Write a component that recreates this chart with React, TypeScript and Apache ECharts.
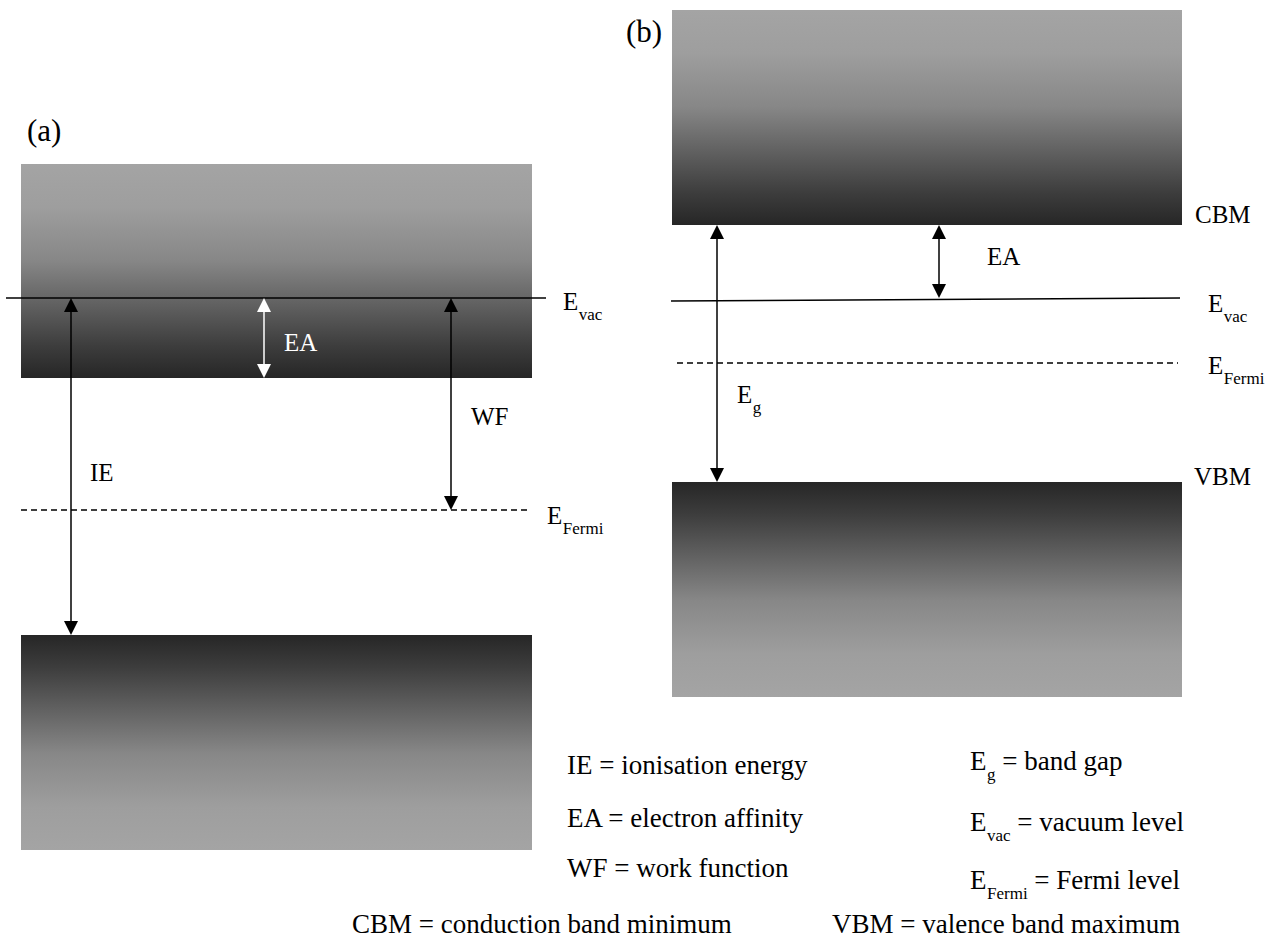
import React, { useEffect, useRef } from 'react';
import * as echarts from 'echarts';

const W = 1274;
const H = 947;

// ---- Diagram data (diagram units: x across, y = energy position, increasing downward) ----
const bandLeft = [21, 672];
const bandRight = [532, 1182];
const conductionTop = [164, 10];
const conductionBottom = [378, 225];
const valenceTop = [635, 482];
const valenceBottom = [850, 697];

const vacuumStartX = [6, 671];
const vacuumEndX = [546, 1180];
const vacuumStartY = [298, 301];
const vacuumEndY = [298, 298];

const fermiStartX = [21, 677];
const fermiEndX = [531, 1178];
const fermiLevel = [510, 363];

const arrowNames = ['IE', 'EA (a)', 'WF', 'EA (b)', 'Eg'];
const arrowX = [71, 264, 451, 939, 717];
const arrowFrom = [298, 298, 298, 225, 225];
const arrowTo = [635, 378, 510, 298, 482];
const arrowColors = ['#000000', '#ffffff', '#000000', '#000000', '#000000'];

const cbStops = [
  { offset: 0, color: '#a4a4a4' },
  { offset: 0.2, color: '#9e9e9e' },
  { offset: 0.45, color: '#878787' },
  { offset: 0.65, color: '#626262' },
  { offset: 0.85, color: '#3d3d3d' },
  { offset: 1, color: '#262626' },
];
const vbStops = cbStops.map((s) => ({ offset: 1 - s.offset, color: s.color })).reverse();

const FONT = '"Liberation Serif", "Times New Roman", serif';

type Part = { t: string; sub?: boolean };
type Label = { parts: Part[]; x: number; base: number; size: number; color?: string };

const L = 25;
const LEG = 27;
const SUB = 17;

const labels: Label[] = [
  { parts: [{ t: '(a)' }], x: 27, base: 141, size: 31 },
  { parts: [{ t: '(b)' }], x: 626, base: 42, size: 31 },
  { parts: [{ t: 'E' }, { t: 'vac', sub: true }], x: 563, base: 310, size: L },
  { parts: [{ t: 'E' }, { t: 'Fermi', sub: true }], x: 547, base: 524, size: L },
  { parts: [{ t: 'EA' }], x: 284, base: 351, size: L, color: '#ffffff' },
  { parts: [{ t: 'IE' }], x: 90, base: 481, size: L },
  { parts: [{ t: 'WF' }], x: 471, base: 425, size: L },
  { parts: [{ t: 'CBM' }], x: 1195, base: 223, size: L },
  { parts: [{ t: 'EA' }], x: 987, base: 265, size: L },
  { parts: [{ t: 'E' }, { t: 'vac', sub: true }], x: 1208, base: 312, size: L },
  { parts: [{ t: 'E' }, { t: 'Fermi', sub: true }], x: 1208, base: 374, size: L },
  { parts: [{ t: 'E' }, { t: 'g', sub: true }], x: 737, base: 403, size: L },
  { parts: [{ t: 'VBM' }], x: 1194, base: 485, size: L },
  // legend
  { parts: [{ t: 'IE = ionisation energy' }], x: 567, base: 774, size: LEG },
  { parts: [{ t: 'EA = electron affinity' }], x: 567, base: 827, size: LEG },
  { parts: [{ t: 'WF = work function' }], x: 567, base: 877, size: LEG },
  { parts: [{ t: 'E' }, { t: 'g', sub: true }, { t: ' = band gap' }], x: 970, base: 770, size: LEG },
  { parts: [{ t: 'E' }, { t: 'vac', sub: true }, { t: ' = vacuum level' }], x: 970, base: 831, size: LEG },
  { parts: [{ t: 'E' }, { t: 'Fermi', sub: true }, { t: ' = Fermi level' }], x: 970, base: 889, size: LEG },
  { parts: [{ t: 'CBM = conduction band minimum' }], x: 352, base: 933, size: LEG },
  { parts: [{ t: 'VBM = valence band maximum' }], x: 832, base: 933, size: LEG },
];

let ctx: CanvasRenderingContext2D | null = null;
function measure(text: string, size: number): number {
  if (!ctx) ctx = document.createElement('canvas').getContext('2d');
  if (!ctx) return text.length * size * 0.5;
  ctx.font = `${size}px ${FONT}`;
  return ctx.measureText(text).width;
}

function buildGraphics() {
  const els: any[] = [];
  labels.forEach((lab) => {
    let x = lab.x;
    lab.parts.forEach((p) => {
      const size = p.sub ? SUB : lab.size;
      const base = p.sub ? lab.base + 10 : lab.base;
      els.push({
        type: 'text',
        x,
        y: base - 0.3375 * size,
        z: 100,
        style: {
          text: p.t,
          fill: lab.color || '#000000',
          font: `${size}px ${FONT}`,
          align: 'left',
          verticalAlign: 'middle',
        },
      });
      x += measure(p.t, size) + (p.sub ? 0 : 0.5);
    });
  });
  return els;
}

export default function App() {
  const ref = useRef<HTMLDivElement>(null);
  useEffect(() => {
    if (!ref.current) return;
    const chart = echarts.init(ref.current, null, { renderer: 'svg' });

    const bandData: number[][] = [];
    for (let i = 0; i < bandLeft.length; i++) {
      bandData.push([bandLeft[i], conductionTop[i], bandRight[i], conductionBottom[i], 0]);
      bandData.push([bandLeft[i], valenceTop[i], bandRight[i], valenceBottom[i], 1]);
    }
    const arrowData = arrowX.map((x, i) => ({ name: arrowNames[i], value: [x, arrowFrom[i], arrowTo[i]] }));

    const levelSeries: any[] = [];
    for (let i = 0; i < vacuumStartX.length; i++) {
      levelSeries.push({
        type: 'line',
        name: 'Evac' + i,
        data: [
          [vacuumStartX[i], vacuumStartY[i]],
          [vacuumEndX[i], vacuumEndY[i]],
        ],
        symbol: 'none',
        silent: true,
        z: 3,
        lineStyle: { color: '#000000', width: 1.5 },
      });
      levelSeries.push({
        type: 'line',
        name: 'EFermi' + i,
        data: [
          [fermiStartX[i], fermiLevel[i]],
          [fermiEndX[i], fermiLevel[i]],
        ],
        symbol: 'none',
        silent: true,
        z: 3,
        lineStyle: { color: '#000000', width: 1.3, type: [6, 4] },
      });
    }

    chart.setOption({
      animation: false,
      backgroundColor: '#ffffff',
      grid: { left: 0, right: 0, top: 0, bottom: 0 },
      xAxis: { type: 'value', min: 0, max: W, show: false },
      yAxis: { type: 'value', min: 0, max: H, inverse: true, show: false },
      series: [
        {
          type: 'custom',
          name: 'bands',
          z: 1,
          clip: false,
          silent: true,
          data: bandData,
          renderItem: (params: any, api: any) => {
            const p0 = api.coord([api.value(0), api.value(1)]);
            const p1 = api.coord([api.value(2), api.value(3)]);
            const kind = api.value(4);
            return {
              type: 'rect',
              shape: {
                x: Math.min(p0[0], p1[0]),
                y: Math.min(p0[1], p1[1]),
                width: Math.abs(p1[0] - p0[0]),
                height: Math.abs(p1[1] - p0[1]),
              },
              style: {
                fill: new echarts.graphic.LinearGradient(0, 0, 0, 1, kind === 0 ? cbStops : vbStops),
              },
            };
          },
        },
        ...levelSeries,
        {
          type: 'custom',
          name: 'arrows',
          z: 5,
          clip: false,
          silent: true,
          data: arrowData,
          renderItem: (params: any, api: any) => {
            const x = api.value(0);
            const a = api.coord([x, api.value(1)]);
            const b = api.coord([x, api.value(2)]);
            const color = arrowColors[params.dataIndex];
            const hw = 7;
            const hl = 14;
            return {
              type: 'group',
              children: [
                {
                  type: 'line',
                  shape: { x1: a[0], y1: a[1] + hl - 1, x2: b[0], y2: b[1] - hl + 1 },
                  style: { stroke: color, lineWidth: 1.5 },
                },
                {
                  type: 'polygon',
                  shape: { points: [[a[0], a[1]], [a[0] - hw, a[1] + hl], [a[0] + hw, a[1] + hl]] },
                  style: { fill: color },
                },
                {
                  type: 'polygon',
                  shape: { points: [[b[0], b[1]], [b[0] - hw, b[1] - hl], [b[0] + hw, b[1] - hl]] },
                  style: { fill: color },
                },
              ],
            };
          },
        },
      ],
      graphic: buildGraphics(),
    });
    return () => chart.dispose();
  }, []);
  return (
    <div
      ref={ref}
      style={{ position: 'absolute', left: 0, top: 0, width: W, height: H, background: '#ffffff' }}
    />
  );
}
